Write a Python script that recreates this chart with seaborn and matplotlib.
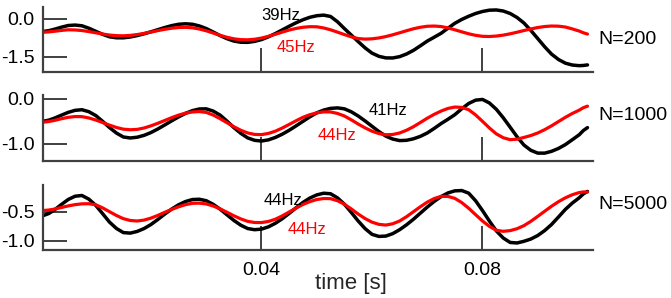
import numpy as np
import pandas as pd
import matplotlib
matplotlib.use("Agg")
import matplotlib.pyplot as plt
import seaborn as sns

# ---- data ----
times = [0.0004, 0.0015, 0.0025, 0.00375, 0.005, 0.00625, 0.0075, 0.00875, 0.01, 0.01125,
         0.0125, 0.01375, 0.015, 0.01625, 0.0175, 0.01875, 0.02, 0.02125, 0.0225, 0.02375,
         0.025, 0.02625, 0.0275, 0.02875, 0.03, 0.03125, 0.0325, 0.03375, 0.035, 0.03625,
         0.0375, 0.03875, 0.04, 0.04125, 0.0425, 0.04375, 0.045, 0.04625, 0.0475, 0.04875,
         0.05, 0.05125, 0.0525, 0.05375, 0.055, 0.05625, 0.0575, 0.05875, 0.06, 0.06125,
         0.0625, 0.06375, 0.065, 0.06625, 0.0675, 0.06875, 0.07, 0.07125, 0.0725, 0.07375,
         0.075, 0.07625, 0.0775, 0.07875, 0.08, 0.08125, 0.0825, 0.08375, 0.085, 0.08625,
         0.0875, 0.08875, 0.09, 0.09125, 0.0925, 0.09375, 0.095, 0.09625, 0.0975, 0.09825, 0.099]

black_200 = [-0.50, -0.464, -0.41, -0.329, -0.26, -0.242, -0.27, -0.367, -0.49, -0.611,
             -0.71, -0.749, -0.75, -0.717, -0.66, -0.59, -0.51, -0.424, -0.34, -0.264,
             -0.21, -0.191, -0.21, -0.277, -0.38, -0.517, -0.66, -0.784, -0.88, -0.926,
             -0.93, -0.893, -0.82, -0.711, -0.58, -0.436, -0.29, -0.152, -0.03, 0.068,
             0.13, 0.155, 0.10, -0.109, -0.38, -0.641, -0.90, -1.151, -1.36, -1.487,
             -1.55, -1.553, -1.50, -1.395, -1.25, -1.069, -0.88, -0.727, -0.57, -0.368,
             -0.17, -0.017, 0.11, 0.219, 0.30, 0.351, 0.36, 0.318, 0.22, 0.06,
             -0.16, -0.455, -0.78, -1.106, -1.40, -1.613, -1.76, -1.834, -1.86, -1.851, -1.83]
red_200 = [-0.53, -0.514, -0.49, -0.456, -0.43, -0.436, -0.46, -0.501, -0.55, -0.599,
           -0.64, -0.664, -0.67, -0.653, -0.62, -0.574, -0.52, -0.463, -0.41, -0.367,
           -0.34, -0.333, -0.35, -0.399, -0.47, -0.559, -0.65, -0.729, -0.79, -0.823,
           -0.83, -0.807, -0.76, -0.691, -0.61, -0.523, -0.44, -0.376, -0.33, -0.306,
           -0.31, -0.357, -0.43, -0.523, -0.62, -0.711, -0.78, -0.801, -0.79, -0.755,
           -0.70, -0.629, -0.55, -0.467, -0.39, -0.329, -0.29, -0.281, -0.30, -0.356,
           -0.43, -0.512, -0.59, -0.651, -0.69, -0.697, -0.68, -0.643, -0.59, -0.527,
           -0.46, -0.396, -0.34, -0.30, -0.28, -0.286, -0.32, -0.395, -0.48, -0.55, -0.60]

black_1000 = [-0.50, -0.473, -0.43, -0.364, -0.30, -0.254, -0.24, -0.284, -0.37, -0.50,
              -0.64, -0.762, -0.85, -0.872, -0.855, -0.813, -0.75, -0.67, -0.58, -0.488,
              -0.40, -0.321, -0.26, -0.223, -0.22, -0.27, -0.36, -0.494, -0.64, -0.768,
              -0.87, -0.924, -0.94, -0.914, -0.86, -0.788, -0.70, -0.602, -0.50, -0.399,
              -0.31, -0.248, -0.21, -0.199, -0.22, -0.286, -0.38, -0.491, -0.61, -0.728,
              -0.83, -0.896, -0.93, -0.924, -0.89, -0.836, -0.76, -0.659, -0.55, -0.453,
              -0.35, -0.218, -0.10, -0.026, -0.01, -0.089, -0.23, -0.419, -0.63, -0.844,
              -1.03, -1.148, -1.21, -1.211, -1.17, -1.106, -1.02, -0.911, -0.80, -0.706, -0.64]
red_1000 = [-0.52, -0.504, -0.48, -0.443, -0.41, -0.393, -0.395, -0.424, -0.47, -0.527,
            -0.585, -0.637, -0.675, -0.688, -0.68, -0.648, -0.60, -0.543, -0.48, -0.417,
            -0.36, -0.317, -0.29, -0.282, -0.30, -0.359, -0.44, -0.53, -0.62, -0.699,
            -0.76, -0.792, -0.797, -0.77, -0.72, -0.65, -0.57, -0.487, -0.41, -0.351,
            -0.31, -0.288, -0.29, -0.323, -0.38, -0.466, -0.56, -0.646, -0.72, -0.773,
            -0.80, -0.794, -0.76, -0.699, -0.62, -0.526, -0.43, -0.344, -0.27, -0.211,
            -0.18, -0.188, -0.24, -0.356, -0.50, -0.648, -0.78, -0.866, -0.91, -0.899,
            -0.86, -0.817, -0.76, -0.686, -0.60, -0.505, -0.41, -0.324, -0.25, -0.195, -0.16]

black_5000 = [-0.57, -0.531, -0.47, -0.378, -0.29, -0.233, -0.22, -0.283, -0.39, -0.534,
              -0.68, -0.789, -0.86, -0.869, -0.84, -0.79, -0.72, -0.633, -0.54, -0.454,
              -0.38, -0.324, -0.29, -0.285, -0.31, -0.372, -0.455, -0.553, -0.65, -0.732,
              -0.79, -0.81, -0.80, -0.761, -0.70, -0.621, -0.53, -0.433, -0.34, -0.264,
              -0.21, -0.181, -0.19, -0.261, -0.37, -0.512, -0.66, -0.791, -0.89, -0.926,
              -0.92, -0.878, -0.81, -0.726, -0.63, -0.525, -0.42, -0.323, -0.24, -0.176,
              -0.14, -0.135, -0.18, -0.311, -0.48, -0.661, -0.83, -0.953, -1.03, -1.039,
              -1.01, -0.971, -0.91, -0.825, -0.72, -0.591, -0.46, -0.351, -0.26, -0.193, -0.15]
red_5000 = [-0.48, -0.471, -0.455, -0.428, -0.40, -0.378, -0.364, -0.362, -0.38, -0.434,
            -0.50, -0.565, -0.62, -0.651, -0.66, -0.644, -0.61, -0.563, -0.51, -0.46,
            -0.415, -0.378, -0.355, -0.352, -0.366, -0.401, -0.45, -0.509, -0.57, -0.624,
            -0.666, -0.686, -0.687, -0.668, -0.63, -0.572, -0.505, -0.438, -0.375, -0.326,
            -0.29, -0.272, -0.275, -0.311, -0.37, -0.452, -0.54, -0.618, -0.68, -0.718,
            -0.73, -0.708, -0.66, -0.586, -0.50, -0.414, -0.335, -0.273, -0.235, -0.236,
            -0.27, -0.343, -0.44, -0.551, -0.66, -0.753, -0.82, -0.838, -0.826, -0.793,
            -0.74, -0.666, -0.58, -0.492, -0.405, -0.327, -0.26, -0.207, -0.17, -0.159, -0.16]

panel_names = ["N=200", "N=1000", "N=5000"]
black_labels = ["39Hz", "41Hz", "44Hz"]
red_labels = ["45Hz", "44Hz", "44Hz"]
ytick_values = [[0.0, -1.5], [0.0, -1.0], [-0.5, -1.0]]
ytick_labels = [["0.0", "-1.5"], ["0.0", "-1.0"], ["-0.5", "-1.0"]]
xtick_values = [0.04, 0.08]
xtick_labels = ["0.04", "0.08"]
xlabel = "time [s]"

# ---- styling / layout ----
sns.set_style("white")
plt.rcParams["font.family"] = ["Liberation Sans", "DejaVu Sans"]

fig = plt.figure(figsize=(6.71, 2.98), dpi=100)
W, H = 671.0, 298.0
left_px, right_px = 42.7, 593.0
panel_px = [(6.7, 71.7), (94.7, 160.7), (184.7, 249.7)]
ylims = [(-2.10, 0.49), (-1.38, 0.096), (-1.155, -0.034)]
black_pos = [(0.0400, 0.15), (0.0593, -0.25), (0.0403, -0.30)]
red_pos = [(0.0427, -1.12), (0.0502, -0.82), (0.0448, -0.81)]
name_y = [0.49, 0.69, 0.69]

series = [(black_200, red_200), (black_1000, red_1000), (black_5000, red_5000)]
spine_col = "#404040"

for i, (top, bot) in enumerate(panel_px):
    ax = fig.add_axes([left_px / W, 1 - bot / H, (right_px - left_px) / W, (bot - top) / H])
    blk, red = series[i]
    df = pd.DataFrame({"t": times, "black": blk, "red": red})
    sns.lineplot(data=df, x="t", y="black", ax=ax, color="black", linewidth=2.5,
                 solid_joinstyle="round", solid_capstyle="round")
    sns.lineplot(data=df, x="t", y="red", ax=ax, color="#ff0000", linewidth=2.3,
                 solid_joinstyle="round", solid_capstyle="round")
    ax.set_xlim(0.0004, 0.1)
    ax.set_ylim(*ylims[i])
    for s in ["top", "right"]:
        ax.spines[s].set_visible(False)
    for s in ["left", "bottom"]:
        ax.spines[s].set_color(spine_col)
        ax.spines[s].set_linewidth(1.6)
    ax.set_xticks(xtick_values)
    if i == 2:
        ax.set_xticklabels(xtick_labels)
    else:
        ax.set_xticklabels([])
    ax.set_yticks(ytick_values[i])
    ax.set_yticklabels(ytick_labels[i])
    ax.tick_params(axis="both", which="major", direction="in", length=17, width=1.4,
                   color=spine_col, labelsize=14, labelcolor="black",
                   bottom=True, left=True, top=False, right=False)
    ax.tick_params(axis="y", pad=6)
    ax.tick_params(axis="x", pad=9)
    ax.set_xlabel("")
    ax.set_ylabel("")
    ax.text(black_pos[i][0], black_pos[i][1], black_labels[i], color="black",
            fontsize=12, ha="left", va="center")
    ax.text(red_pos[i][0], red_pos[i][1], red_labels[i], color="#ff0000",
            fontsize=12, ha="left", va="center")
    ax.text(1.0096, name_y[i], panel_names[i], transform=ax.transAxes,
            fontsize=14, ha="left", va="center", color="black")
    if i == 2:
        ax.set_xlabel(xlabel, fontsize=16)
        ax.xaxis.set_label_coords((351 - left_px) / (right_px - left_px), -0.36)

fig.savefig("out.png", dpi=100)
